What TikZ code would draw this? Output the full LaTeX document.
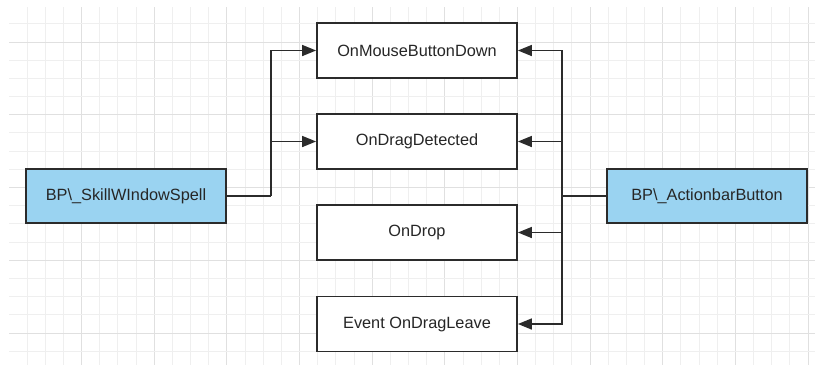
\documentclass[tikz,border=0pt]{standalone}
\usepackage{fontspec}
\setmainfont{Liberation Sans}
\usetikzlibrary{arrows.meta}
\definecolor{gridminor}{HTML}{EFEFEF}
\definecolor{gridmajor}{HTML}{E0E0E0}
\definecolor{bpblue}{HTML}{9AD3F1}
\definecolor{edge}{HTML}{2B2B2B}
\tikzset{
  box/.style={draw=edge, line width=1.8pt, minimum width=200pt, minimum height=55pt,
    inner sep=0pt, text=black!85, font=\fontsize{16.3}{19}\selectfont},
  bpbox/.style={box, fill=bpblue, minimum height=54pt},
  evbox/.style={box, fill=white},
  wire/.style={draw=edge, line width=1.6pt},
  arr/.style={wire, -{Triangle[length=14pt, width=11pt]}},
}
\begin{document}
\begin{tikzpicture}[x=1pt, y=-1pt]
  \useasboundingbox[fill=white] (0,0) rectangle (815,365);
  % background grid
  \begin{scope}
    \clip (9,7) rectangle (815,365);
    \foreach \k in {1,...,45} {
      \pgfmathsetmacro{\gx}{9+\k*18.16}
      \pgfmathtruncatemacro{\mj}{mod(\k,4)==0}
      \ifnum\mj=1
        \draw[gridmajor, line width=1pt] (\gx,7) -- (\gx,365);
      \else
        \draw[gridminor, line width=1pt] (\gx,7) -- (\gx,365);
      \fi
    }
    \foreach \k in {-2,...,18} {
      \pgfmathsetmacro{\gy}{42+\k*18.19}
      \pgfmathtruncatemacro{\mj}{mod(\k+8,4)==0}
      \ifnum\mj=1
        \draw[gridmajor, line width=1pt] (9,\gy) -- (815,\gy);
      \else
        \draw[gridminor, line width=1pt] (9,\gy) -- (815,\gy);
      \fi
    }
  \end{scope}

  % blueprints
  \node[bpbox] (skill) at (126,196) {BP\textbackslash\_SkillWIndowSpell};
  \node[bpbox] (action) at (707,196) {BP\textbackslash\_ActionbarButton};

  % events
  \node[evbox] (mouse) at (417,50.5) {OnMouseButtonDown};
  \node[evbox] (drag)  at (417,141.5) {OnDragDetected};
  \node[evbox] (drop)  at (417,232.5) {OnDrop};
  \node[evbox] (leave) at (417,324) {Event OnDragLeave};

  % junctions
  \coordinate (jl) at (271,196);
  \coordinate (jr) at (562,196);

  % connectors
  \draw[wire] (skill.east) -- (jl);
  \draw[arr] (jl) |- (mouse);
  \draw[arr] (jl) |- (drag);
  \draw[wire] (action.west) -- (jr);
  \draw[arr] (jr) |- (mouse);
  \draw[arr] (jr) |- (drag);
  \draw[arr] (jr) |- (drop);
  \draw[arr] (jr) |- (leave);
\end{tikzpicture}
\end{document}
